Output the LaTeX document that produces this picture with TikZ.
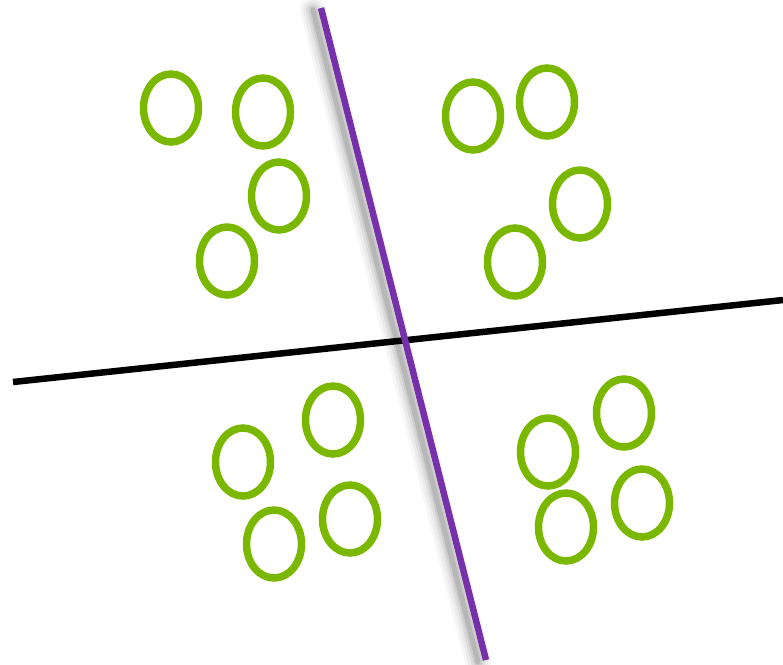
\documentclass[tikz,border=0pt]{standalone}
\begin{document}
\begin{tikzpicture}[x=1pt,y=-1pt,
  blob/.style={draw=ringgreen,line width=7.5pt},
  purpleline/.style={draw=linepurple,line width=6.5pt},
  blackline/.style={draw=black,line width=6.5pt}]
\definecolor{ringgreen}{HTML}{7AB800}
\definecolor{linepurple}{HTML}{7530AA}
\useasboundingbox (0,0) rectangle (783,664);
% circles
\foreach \n/\x/\y in {a/171/108, b/263/112, c/279/196, d/227/261,
                      e/473/116, f/547/102, g/580/204, h/515/262,
                      i/333/420, j/243/462, k/350/519, l/274/544,
                      m/624/413, n/548/452, o/642/503, p/566/527}
  \draw[blob] (\x,\y) ellipse [x radius=27.5, y radius=34];
% black line
\coordinate (bl) at (13,382);
\coordinate (br) at (783,300);
\draw[blackline] (bl) -- (br);
% purple line with soft shadow
\coordinate (pt) at (321,8);
\coordinate (pb) at (486,660);
\foreach \w/\o in {26/0.035,20/0.045,14/0.06,9/0.08,5/0.1}
  \draw[line width=\w pt, draw=black, opacity=\o, line cap=round] ([xshift=-8pt,yshift=-2pt]pt) -- ([xshift=-8pt,yshift=-2pt]pb);
\draw[purpleline] (pt) -- (pb);
\end{tikzpicture}
\end{document}
